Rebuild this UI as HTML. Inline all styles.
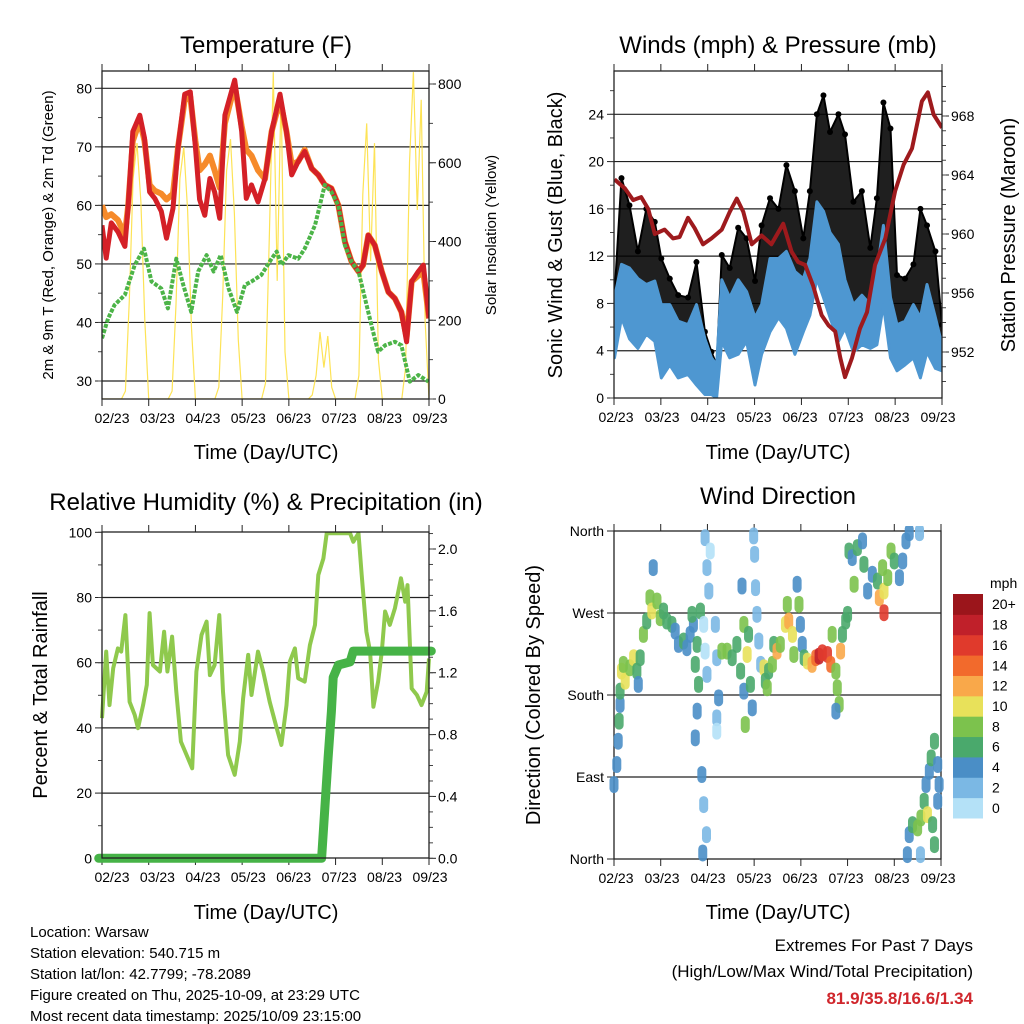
<!DOCTYPE html>
<html><head><meta charset="utf-8">
<style>
html,body{margin:0;padding:0;background:#fff;}
svg{display:block;font-family:"Liberation Sans",sans-serif;}
</style></head>
<body>
<svg id="fig" width="1024" height="1024" viewBox="0 0 1024 1024" xmlns="http://www.w3.org/2000/svg">
<rect width="1024" height="1024" fill="#fff"/>
<text x="266" y="53" font-size="24" text-anchor="middle">Temperature (F)</text>
<text x="778" y="53" font-size="24" text-anchor="middle">Winds (mph) &amp; Pressure (mb)</text>
<text x="266" y="510" font-size="24" text-anchor="middle">Relative Humidity (%) &amp; Precipitation (in)</text>
<text x="778" y="504" font-size="24" text-anchor="middle">Wind Direction</text>
<text x="266" y="459" font-size="20" text-anchor="middle">Time (Day/UTC)</text>
<text x="778" y="459" font-size="20" text-anchor="middle">Time (Day/UTC)</text>
<text x="266" y="919" font-size="20" text-anchor="middle">Time (Day/UTC)</text>
<text x="778" y="919" font-size="20" text-anchor="middle">Time (Day/UTC)</text>
<text transform="translate(53,235) rotate(-90)" font-size="15" text-anchor="middle">2m &amp; 9m T (Red, Orange) &amp; 2m Td (Green)</text>
<text transform="translate(496,235) rotate(-90)" font-size="15" text-anchor="middle">Solar Insolation (Yellow)</text>
<text transform="translate(562,235) rotate(-90)" font-size="20" text-anchor="middle">Sonic Wind &amp; Gust (Blue, Black)</text>
<text transform="translate(1015,235) rotate(-90)" font-size="20" text-anchor="middle">Station Pressure (Maroon)</text>
<text transform="translate(47,695) rotate(-90)" font-size="20" text-anchor="middle">Percent &amp; Total Rainfall</text>
<text transform="translate(540,695) rotate(-90)" font-size="20" text-anchor="middle">Direction (Colored By Speed)</text>
<g font-size="15">
<text x="30" y="937">Location: Warsaw</text>
<text x="30" y="958">Station elevation: 540.715 m</text>
<text x="30" y="979">Station lat/lon: 42.7799; -78.2089</text>
<text x="30" y="1000">Figure created on Thu, 2025-10-09, at 23:29 UTC</text>
<text x="30" y="1021">Most recent data timestamp: 2025/10/09 23:15:00</text>
</g>
<g font-size="17" text-anchor="end">
<text x="973" y="951">Extremes For Past 7 Days</text>
<text x="973" y="977">(High/Low/Max Wind/Total Precipitation)</text>
<text x="973" y="1004" fill="#d0262c" font-weight="bold">81.9/35.8/16.6/1.34</text>
</g>
<g id="plots"></g>
</svg>
<script>
// ---------- DATA ----------
const xTickLabels = ["02/23","03/23","04/23","05/23","06/23","07/23","08/23","09/23"];
// Temperature panel
const tempTime = [0,.09,.2,.34,.49,.56,.66,.81,.91,1.02,1.13,1.27,1.38,1.52,1.63,1.77,1.89,2.0,2.09,2.2,2.31,2.41,2.52,2.63,2.84,2.99,3.09,3.2,3.34,3.49,3.63,3.81,3.95,4.06,4.2,4.34,4.49,4.63,4.77,4.91,5.06,5.2,5.34,5.49,5.59,5.7,5.84,5.99,6.13,6.27,6.41,6.52,6.63,6.77,6.88,7.0];
const temp9m = [56.6,51,57,55.5,53,60,72.6,75.4,71.5,62.3,61.2,59,54.4,59.5,70,79,79.4,70,61,58.3,64.6,62.3,57.8,75.4,81.4,72.6,61.2,63.5,60.6,64.6,72.6,79,72.6,65.2,67.5,69.2,66.3,65.2,63.5,62.9,60,53.8,50.4,48.7,49.8,54.9,53.2,48.7,45.2,44.1,41.8,36.7,47,48.7,49.8,40.7];
const temp2m = [60,58,58.5,57.5,55,60,71,74.5,71,63.5,62.5,62,61,62,70,78,78.5,71,66,67,68.5,66,63,74,80.5,73.5,69.5,68.5,66,64.5,72.6,78,72.6,67,67.5,69.5,66.3,65.2,63.5,62.9,60,53.8,50.4,48.7,49.8,54.9,53.2,48.7,45.2,44.1,41.8,37.5,47,48,48.5,40.7];
const dewTime = [0,.13,.27,.49,.7,.9,1.06,1.27,1.41,1.59,1.74,1.91,2.06,2.24,2.39,2.54,2.71,2.89,3.06,3.2,3.41,3.63,3.74,3.84,3.99,4.2,4.34,4.56,4.77,4.91,5.06,5.2,5.34,5.49,5.63,5.77,5.91,6.06,6.27,6.41,6.59,6.77,6.99];
const dewPoint = [37.3,40.7,43,44.7,49.8,52.6,47,45.8,42.4,50.9,46.4,41.8,48.7,51.5,48.7,51.5,45.8,41.8,46.4,47,48.1,50.9,52.1,49.8,51.5,50.9,52.6,56.6,63.5,62.3,60,53.2,50.4,48.7,44.1,39.5,35,36.1,36.7,36.1,29.9,31,29.9];
// solar insolation, 2-hour slots
const solar = [
0,0,0,0,0,0,20,250,560,650,500,200,
0,0,0,0,0,0,20,240,560,640,480,180,
0,0,0,0,0,0,30,260,580,660,470,150,
0,0,0,0,0,0,40,420,830,300,780,120,
0,0,0,0,0,0,10,60,170,80,160,30,
0,0,0,0,0,0,60,520,700,350,650,100,
0,0,0,0,0,0,80,600,830,480,760,200,0];
// Winds panel
const windTime = [.01,.16,.33,.51,.69,.87,1.01,1.19,1.37,1.58,1.76,1.94,2.08,2.19,2.3,2.47,2.65,2.83,3.01,3.15,3.33,3.51,3.68,3.86,4.04,4.18,4.33,4.47,4.61,4.79,4.93,5.11,5.29,5.47,5.61,5.75,5.9,6.04,6.21,6.39,6.54,6.68,6.86,7.0];
const windHi = [8.5,11.3,11,10.1,9.6,9.9,7.9,7.9,6.5,6.2,7.9,5,3.4,2.8,10,8.5,10,9,6.8,7.9,11.8,11.8,12.4,10.7,10.1,11.8,16.6,15.8,14,13,10,7.9,8.7,7.9,10.7,14.6,8.5,6.2,6.5,7.9,6.8,9.6,6.8,4.5];
const windLo = [3.4,6.8,5,4.2,5.4,4.8,1.7,2.8,1.7,2,1.1,0.3,0.3,0,4.8,3.4,3.7,4.8,1.1,3.7,5.6,6.8,5.9,3.7,5.6,7,10.1,8.5,6.8,4.8,5.9,3.9,4.5,4.2,4.5,7.9,3.4,2.3,2.8,3.4,1.7,3.9,2.5,2.3];
const gust = [8.7,18.6,16.3,12.4,16,14.9,11.8,10.1,8.7,8.5,11.5,5.6,3.9,2.8,12.1,11,14.4,13.5,9.9,14.6,16.9,16,19.7,17.5,13.5,17.5,24,25.6,22.5,24,22.3,16.6,17.5,12.7,16.9,25,22.8,10.4,10.1,11.3,16,14.6,12.4,6.2];
const presTime = [.01,.23,.41,.58,.73,.87,1.08,1.26,1.4,1.58,1.72,1.9,2.08,2.3,2.47,2.62,2.76,2.94,3.15,3.36,3.61,3.79,3.93,4.08,4.25,4.43,4.58,4.72,4.83,4.93,5.08,5.25,5.4,5.57,5.79,6.0,6.18,6.36,6.57,6.7,6.82,7.0];
const pressure = [963.7,963.1,962.3,962.5,961.7,960,960.3,959.7,959.8,961.1,960.4,959.3,959.7,960.3,961.5,962.4,961.5,959.3,959.9,959.3,960.7,958.8,958.1,957.9,956.5,954.5,953.8,953.4,951.6,950.3,951.6,953.6,954.7,957.9,959.7,962.9,964.7,965.8,969,969.6,968.1,967.2];
// Humidity panel
const rhTime = [0,.09,.16,.24,.34,.41,.5,.59,.7,.77,.88,.96,1.02,1.09,1.24,1.33,1.4,1.5,1.59,1.69,1.81,1.93,2.02,2.13,2.24,2.31,2.41,2.51,2.59,2.7,2.84,2.95,3.02,3.13,3.2,3.34,3.45,3.59,3.74,3.84,3.95,4.02,4.13,4.2,4.34,4.45,4.56,4.63,4.74,4.81,5.31,5.38,5.49,5.56,5.66,5.74,5.81,5.91,5.99,6.06,6.16,6.27,6.4,6.49,6.54,6.63,6.74,6.84,6.95,7.0];
const rh = [43,63.4,47,58.3,64.4,63.4,74.6,48,44,39.9,47,53.2,75.2,59.3,57.3,69.5,57.3,68,51.1,35.8,31.7,27.6,57.3,68.5,72.6,56.2,59.3,74.6,51.1,31.7,25.6,35.8,49,62.4,50.1,63.4,57.3,48,39.9,34.8,47,60.3,64.4,55.2,54.2,65.4,71.6,86.9,92,99.7,99.7,97.1,99.7,86.9,69.5,63.4,46.5,54.2,63.4,75.7,71.6,76.7,85.9,78.7,83.8,52.1,50.1,47,51.1,61.3];
const precipTime = [-0.07,4.7,4.77,4.84,4.91,4.95,5.06,5.31,5.38,7.05];
const precip = [0,0,0.32,0.65,0.95,1.17,1.25,1.27,1.34,1.34];
// Wind direction panel
const dirTime = [0,.06,.09,.11,.13,.13,.16,.24,.2,.34,.42,.49,.52,.56,.63,.7,.77,.81,.84,.92,.99,1.06,1.13,1.24,1.31,1.38,1.49,1.56,1.63,1.7,1.78,1.67,1.85,1.74,1.81,1.78,1.74,1.95,1.99,2.03,1.92,1.95,1.99,1.88,1.92,1.98,1.9,2.06,2.17,2.2,2.24,2.2,2.2,2.31,2.42,2.53,2.63,2.71,2.78,2.74,2.78,2.85,2.88,2.81,2.92,2.96,2.99,3.01,3.03,3.06,3.1,3.14,3.21,3.24,3.28,3.31,3.39,3.42,3.49,3.56,3.67,3.71,3.74,3.82,3.85,3.92,3.96,3.99,4.03,4.07,4.14,4.24,4.32,4.39,4.46,4.57,4.64,4.67,4.75,4.78,4.82,4.75,4.85,4.89,4.96,5.0,5.03,5.1,5.14,5.21,5.32,5.35,5.43,5.53,5.64,5.68,5.75,5.78,5.78,5.86,5.93,6.0,6.11,6.18,6.25,6.32,6.54,6.28,6.32,6.39,6.5,6.57,6.64,6.68,6.75,6.79,6.86,6.93,6.96,6.56,6.86,6.71,6.82,6.93];
const dirDeg = [81.7,103.7,129.3,151.3,169.6,184.2,206.2,195.2,213.6,209.9,220.9,206.2,191.6,220.9,246.5,261.2,286.8,272.2,319.8,283.2,264.8,272.2,261.2,257.5,250.2,235.5,239.2,231.9,246.5,257.5,235.5,268.5,272.2,213.6,191.6,162.3,133,352.7,319.8,294.1,257.5,228.2,202.6,92.7,59.7,26.7,6.6,338.1,257.5,220.9,176.9,154.9,140.3,228.2,228.2,220.9,235.5,206.2,184.2,299.6,257.5,224.5,246.5,147.6,191.6,165.9,354.6,334.4,297.8,268.5,239.2,213.6,209.9,195.2,187.9,206.2,213.6,235.5,228.2,235.5,257.5,279.5,261.2,246.5,224.5,301.5,279.5,257.5,235.5,220.9,217.2,213.6,220.9,222.7,226.4,224.5,213.6,246.5,206.2,187.9,169.6,162.3,228.2,246.5,261.2,268.5,338.1,330.8,301.5,341.8,349.1,323.4,294.1,312.5,305.1,286.8,319.8,294.1,270.3,308.8,338.1,327.1,308.8,327.1,349.1,358.2,358.2,4.8,26.7,37.7,34.1,45.1,63.4,81.7,96.3,111,129.3,103.7,81.7,4.8,15.8,48.7,37.7,63.4];
const dirSpeed = [4,4,4,6,4,6,10,10,8,8,10,6,4,6,8,6,8,10,4,8,8,6,6,6,4,4,6,4,4,4,6,6,6,6,6,4,4,2,2,2,0,0,2,4,2,2,4,0,2,2,4,2,0,8,8,6,6,6,4,4,8,10,6,8,6,4,2,2,2,2,2,2,10,6,8,6,8,6,12,8,10,8,12,10,8,4,8,4,4,6,10,12,14,18,16,16,14,8,8,8,8,4,12,6,6,6,6,4,8,6,4,6,4,4,6,13,8,10,16,8,8,6,4,4,4,4,2,4,4,6,8,8,6,4,4,6,6,4,4,2,6,10,6,4];
const speedLabels = ["0","2","4","6","8","10","12","14","16","18","20+"];
const speedColors = ["#b4e1f7","#7bb8e4","#4a8ec6","#4aa96c","#7cc24d","#e8e15a","#f9a84a","#f26a2c","#e03a2c","#c0202a","#9b151b"];

// ---------- HELPERS ----------
const NS = "http://www.w3.org/2000/svg";
const root = document.getElementById("plots");
function mk(tag, attrs, parent) {
  const e = document.createElementNS(NS, tag);
  for (const k in attrs) e.setAttribute(k, attrs[k]);
  (parent || root).appendChild(e);
  return e;
}
function lin(d0, d1, r0, r1) { return v => r0 + (v - d0) * (r1 - r0) / (d1 - d0); }
function pathFrom(xs, ys, fx, fy) {
  return xs.map((t, i) => (i ? "L" : "M") + fx(t).toFixed(1) + "," + fy(ys[i]).toFixed(1)).join("");
}

function frame(P, name, leftTicks, leftLabels, leftMinor, fyL, rightTicks, rightLabels, rightMinor, fyR, labelCenters) {
  const g = mk("g", {});
  
  
  leftTicks.forEach(v => {
    const y = fyL(v);
    if (y > P.y0 + 1 && y < P.y1 - 1) {
      const gl = mk("line", {x1: P.x0, x2: P.x1, y1: y, y2: y, stroke: "#222", "stroke-width": 1.2}, g);
      
      
    }
  });
  leftTicks.forEach((v, i) => {
    const y = fyL(v);
    mk("line", {x1: P.x0 - 7, x2: P.x0, y1: y, y2: y, stroke: "#222"}, g);
    const t = mk("text", {x: P.x0 - 10, y: y + 5, "font-size": 14, "text-anchor": "end"}, g);
    t.textContent = leftLabels[i];
    
    
  });
  leftMinor.forEach(v => { const y = fyL(v); mk("line", {x1: P.x0 - 4, x2: P.x0, y1: y, y2: y, stroke: "#444"}, g); });
  if (fyR) {
    rightTicks.forEach((v, i) => {
      const y = fyR(v);
      mk("line", {x1: P.x1, x2: P.x1 + 7, y1: y, y2: y, stroke: "#222"}, g);
      const t = mk("text", {x: P.x1 + 9, y: y + 5, "font-size": 14}, g);
      t.textContent = rightLabels[i];
      
      
    });
    rightMinor.forEach(v => { const y = fyR(v); mk("line", {x1: P.x1, x2: P.x1 + 4, y1: y, y2: y, stroke: "#444"}, g); });
  }
  for (let i = 0; i <= 7; i++) {
    const x = P.x0 + i * (P.x1 - P.x0) / 7;
    mk("line", {x1: x, x2: x, y1: P.y1, y2: P.y1 + 7, stroke: "#222"}, g);
    mk("line", {x1: x, x2: x, y1: P.y0 - 7, y2: P.y0, stroke: "#222"}, g);
  }
  xTickLabels.forEach((s, i) => {
    const t = mk("text", {x: labelCenters[0] + i * (labelCenters[1] - labelCenters[0]) / 7, y: P.y1 + 24, "font-size": 14, "text-anchor": "middle"}, g);
    t.textContent = s;
    
    
  });
}
function border(P) {
  const r = mk("rect", {x: P.x0, y: P.y0, width: P.x1 - P.x0, height: P.y1 - P.y0, fill: "none", stroke: "#222", "stroke-width": 1.3});
  
  
}
function clip(id, P) {
  const defs = mk("defs", {});
  const c = mk("clipPath", {id: id}, defs);
  mk("rect", {x: P.x0, y: P.y0, width: P.x1 - P.x0, height: P.y1 - P.y0}, c);
}
function range(a, b, s) { const r = []; for (let v = a; v <= b + 1e-9; v += s) r.push(+v.toFixed(3)); return r; }

// ---------- PANEL 1: TEMPERATURE ----------
(function () {
  const P = {x0: 102, x1: 429, y0: 71, y1: 399};
  const fx = lin(0, 7, P.x0, P.x1);
  const fy = lin(30, 80, 381, 88.3);
  const fyS = lin(0, 800, 399, 84);
  clip("c1", P);
  const lt = range(30, 80, 10);
  frame(P, "temperature", lt, lt.map(String), range(30, 80, 5), fy,
        range(0, 800, 200), range(0, 800, 200).map(String), range(0, 800, 100), fyS, [112, 430]);
  const g = mk("g", {"clip-path": "url(#c1)"});
  const solT = solar.map((v, i) => i / 12);
  const s = mk("path", {d: pathFrom(solT, solar, fx, fyS), fill: "none", stroke: "#fde356", "stroke-width": 1.2}, g);
  
  
  const o = mk("path", {d: pathFrom(tempTime, temp2m, fx, fy), fill: "none", stroke: "#f68a2a", "stroke-width": 6, "stroke-linejoin": "round"}, g);
  
  
  const r = mk("path", {d: pathFrom(tempTime, temp9m, fx, fy), fill: "none", stroke: "#d42027", "stroke-width": 5, "stroke-linejoin": "round"}, g);
  
  
  const d = mk("path", {d: pathFrom(dewTime, dewPoint, fx, fy), fill: "none", stroke: "#4cb448", "stroke-width": 4, "stroke-dasharray": "4 1.5", "stroke-linejoin": "round"}, g);
  
  
  border(P);
})();

// ---------- PANEL 2: WINDS ----------
(function () {
  const P = {x0: 614, x1: 942, y0: 71, y1: 398};
  const fx = lin(0, 7, P.x0, P.x1);
  const fy = lin(0, 24, 398, 114.3);
  const fyP = lin(952, 968, 352, 116);
  clip("c2", P);
  const lt = range(0, 24, 4);
  frame(P, "winds", lt, lt.map(String), range(0, 26, 2), fy,
        range(952, 968, 4), range(952, 968, 4).map(String), range(950, 970, 1), fyP, [616, 938]);
  const g = mk("g", {"clip-path": "url(#c2)"});
  const band = pathFrom(windTime, gust, fx, fy) + pathFrom(windTime.slice().reverse(), windLo.slice().reverse(), fx, fy).replace("M", "L") + "Z";
  const gb = mk("path", {d: band, fill: "#000", "fill-opacity": 0.88, stroke: "#000", "stroke-width": 2, "stroke-linejoin": "round"}, g);
  
  
  windTime.forEach((t, i) => {
    const c = mk("circle", {cx: fx(t), cy: fy(gust[i]), r: 3, fill: "#000"}, g);
    
    
  });
  const wb = pathFrom(windTime, windHi, fx, fy) + pathFrom(windTime.slice().reverse(), windLo.slice().reverse(), fx, fy).replace("M", "L") + "Z";
  const w = mk("path", {d: wb, fill: "#4e97d1", stroke: "#4e97d1", "stroke-width": 3, "stroke-linejoin": "round"}, g);
  
  
  const p = mk("path", {d: pathFrom(presTime, pressure, fx, fyP), fill: "none", stroke: "#9e1a1d", "stroke-width": 4, "stroke-linejoin": "round"}, g);
  
  
  border(P);
})();

// ---------- PANEL 3: HUMIDITY ----------
(function () {
  const P = {x0: 102, x1: 429, y0: 532, y1: 858};
  const fx = lin(0, 7, P.x0, P.x1);
  const fy = lin(0, 100, 858.3, 532.3);
  const fyR = lin(0, 2, 858.3, 549);
  clip("c3", {x0: 92, x1: 440, y0: 532, y1: 866});
  const lt = range(0, 100, 20);
  frame(P, "humidity", lt, lt.map(String), range(0, 100, 10), fy,
        range(0, 2, 0.4), range(0, 2, 0.4).map(v => v.toFixed(1)), range(0, 2.1, 0.1), fyR, [112, 430]);
  const g = mk("g", {"clip-path": "url(#c3)"});
  const h = mk("path", {d: pathFrom(rhTime, rh, fx, fy), fill: "none", stroke: "#8fc94d", "stroke-width": 4, "stroke-linejoin": "round"}, g);
  
  
  border(P);
  const pr = mk("path", {d: pathFrom(precipTime, precip, fx, fyR), fill: "none", stroke: "#46b347", "stroke-width": 9, "stroke-linejoin": "round", "stroke-linecap": "round"}, g);
  
  
})();

// ---------- PANEL 4: WIND DIRECTION ----------
(function () {
  const P = {x0: 614, x1: 941, y0: 531, y1: 859};
  const fx = lin(0, 7, P.x0, P.x1);
  const fy = lin(0, 360, 859, 531);
  clip("c4", {x0: 605, x1: 950, y0: 526, y1: 864});
  frame(P, "direction", [0, 90, 180, 270, 360], ["North", "East", "South", "West", "North"], [], fy,
        [], [], [], null, [616, 938]);
  border(P);
  const g = mk("g", {"clip-path": "url(#c4)"});
  dirTime.forEach((t, i) => {
    const b = Math.min(10, Math.floor(dirSpeed[i] / 2));
    const x = fx(t), y = fy(dirDeg[i]);
    const c = mk("line", {x1: x, x2: x, y1: y - 4, y2: y + 4, stroke: speedColors[b], "stroke-width": 9, "stroke-linecap": "round", "stroke-opacity": 0.9}, g);
    
    
  });
  const cb = mk("g", {});
  
  
  const t0 = mk("text", {x: 990, y: 588, "font-size": 14, "text-anchor": "start"}, cb);
  t0.textContent = "mph";
  const bh = (818 - 594) / 11;
  speedColors.forEach((col, i) => {
    const y = 818 - (i + 1) * bh;
    const r = mk("rect", {x: 953, y: y, width: 30, height: bh + 0.5, fill: col}, cb);
    
    
    const t = mk("text", {x: 992, y: y + bh / 2 + 5, "font-size": 14}, cb);
    t.textContent = speedLabels[i];
    
    
  });
})();
</script>
</body></html>
